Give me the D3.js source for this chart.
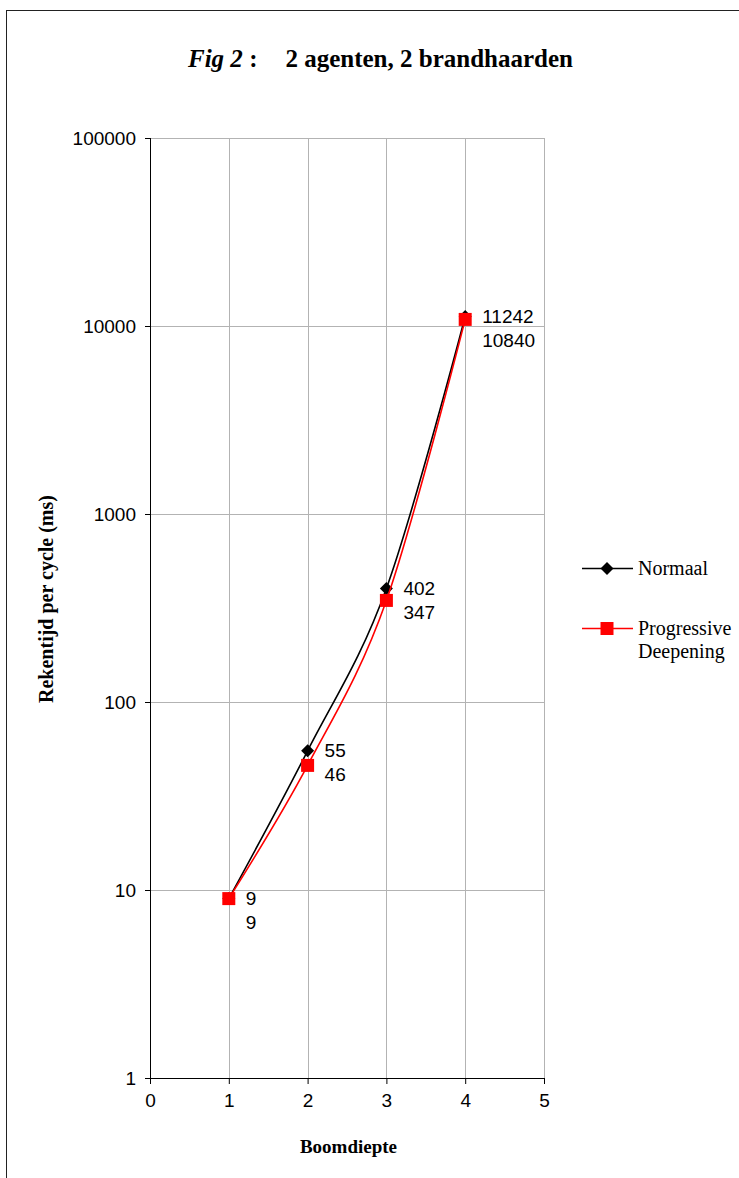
<!DOCTYPE html>
<html>
<head>
<meta charset="utf-8">
<script src="https://cdn.jsdelivr.net/npm/d3@7"></script>
<style>
    body { margin: 0; background: #fff; }
    svg { display: block; }
</style>
</head>
<body>
<svg id="chart"></svg>
<script>
// Chart data
const depths = [1, 2, 3, 4];
const normaal = [9, 55, 402, 11242];
const progressive = [9, 46, 347, 10840];
const seriesNames = ["Normaal", "Progressive Deepening"];
const seriesColors = ["#000000", "#ff0000"];
const xTicks = [0, 1, 2, 3, 4, 5];
const yTicks = [1, 10, 100, 1000, 10000, 100000];

class LineChart {
    constructor(_config) {
        this.config = {
            parentElement: _config.parentElement,
            containerWidth: 739,
            containerHeight: 1178,
            margin: { top: 138, right: 195, bottom: 100, left: 150 }
        };
        this.initVis();
    }

    /**
     * Initialize the visualization
     */
    initVis() {
        let vis = this;
        const m = vis.config.margin;

        vis.width = vis.config.containerWidth - m.left - m.right;
        vis.height = vis.config.containerHeight - m.top - m.bottom;

        vis.svg = d3.select(vis.config.parentElement)
            .attr("width", vis.config.containerWidth)
            .attr("height", vis.config.containerHeight);

        // outer frame, runs off the right and bottom edge
        vis.svg.append("rect")
            .attr("x", 6.5)
            .attr("y", 10.5)
            .attr("width", 800)
            .attr("height", 1300)
            .attr("fill", "none")
            .attr("stroke", "#222")
            .attr("stroke-width", 1);

        vis.chart = vis.svg.append("g")
            .attr("transform", `translate(${m.left},${m.top})`);

        vis.xScale = d3.scaleLinear()
            .domain([0, 5])
            .range([0, vis.width]);

        vis.yScale = d3.scaleLog()
            .domain([1, 100000])
            .range([vis.height, 0]);

        vis.drawTitles();
        vis.drawAxes();
        vis.updateVis();
        vis.createLegend();
    }

    drawTitles() {
        let vis = this;

        let title = vis.svg.append("text")
            .attr("x", 188)
            .attr("y", 67)
            .style("font-family", "'Liberation Serif', serif")
            .style("font-weight", "bold")
            .style("font-size", "25px");
        title.append("tspan").style("font-style", "italic").text("Fig 2");
        title.append("tspan").text(" :");

        vis.svg.append("text")
            .attr("x", 573)
            .attr("y", 67)
            .attr("text-anchor", "end")
            .style("font-family", "'Liberation Serif', serif")
            .style("font-weight", "bold")
            .style("font-size", "25px")
            .text("2 agenten, 2 brandhaarden");

        // axis titles
        vis.svg.append("text")
            .attr("transform", "translate(53,599) rotate(-90)")
            .attr("text-anchor", "middle")
            .style("font-family", "'Liberation Serif', serif")
            .style("font-weight", "bold")
            .style("font-size", "20px")
            .text("Rekentijd per cycle (ms)");

        vis.svg.append("text")
            .attr("x", 348.5)
            .attr("y", 1153)
            .attr("text-anchor", "middle")
            .style("font-family", "'Liberation Serif', serif")
            .style("font-weight", "bold")
            .style("font-size", "19px")
            .text("Boomdiepte");
    }

    drawAxes() {
        let vis = this;

        // gridlines
        vis.chart.append("g")
            .selectAll("line.hgrid")
            .data(yTicks)
            .join("line")
            .attr("x1", 0)
            .attr("x2", vis.width)
            .attr("y1", d => Math.round(vis.yScale(d)) + 0.5)
            .attr("y2", d => Math.round(vis.yScale(d)) + 0.5)
            .attr("stroke", "#b3b3b3");

        vis.chart.append("g")
            .selectAll("line.vgrid")
            .data(xTicks)
            .join("line")
            .attr("x1", d => Math.round(vis.xScale(d)) + 0.5)
            .attr("x2", d => Math.round(vis.xScale(d)) + 0.5)
            .attr("y1", 0)
            .attr("y2", vis.height)
            .attr("stroke", "#b3b3b3");

        // Y axis
        vis.yAxis = d3.axisLeft(vis.yScale)
            .tickValues(yTicks)
            .tickFormat(d3.format("d"))
            .tickSize(5)
            .tickPadding(9)
            .offset(0.5);

        vis.yAxisGroup = vis.chart.append("g").call(vis.yAxis);

        // X axis
        vis.xAxis = d3.axisBottom(vis.xScale)
            .tickValues(xTicks)
            .tickFormat(d3.format("d"))
            .tickSize(6)
            .tickPadding(6)
            .offset(0.5);

        vis.xAxisGroup = vis.chart.append("g")
            .attr("transform", `translate(0,${vis.height})`)
            .call(vis.xAxis);

        [vis.yAxisGroup, vis.xAxisGroup].forEach(g => {
            g.selectAll(".domain").attr("stroke", "#000");
            g.selectAll(".tick line").attr("stroke", "#000");
            g.selectAll(".tick text")
                .attr("fill", "#000")
                .style("font-family", "'Liberation Sans', Arial, sans-serif")
                .style("font-size", "19px");
        });
        vis.yAxisGroup.selectAll(".domain").attr("d", `M0.5,${vis.height}V0`);
        vis.xAxisGroup.selectAll(".domain").attr("d", `M0,0.5H${vis.width}`);
        vis.xAxisGroup.selectAll(".tick text").attr("dy", "0.9em");
    }

    /**
     * Update visualization
     */
    updateVis() {
        let vis = this;

        vis.series = [
            { name: seriesNames[0], color: seriesColors[0], symbol: d3.symbolDiamond2, values: normaal },
            { name: seriesNames[1], color: seriesColors[1], symbol: d3.symbolSquare2, values: progressive }
        ];

        const line = d3.line()
            .x(d => vis.xScale(d.x))
            .y(d => vis.yScale(d.y))
            .curve(d3.curveCardinal.tension(0));

        vis.series.forEach(s => {
            const pts = depths.map((x, i) => ({ x: x, y: s.values[i] }));

            vis.chart.append("path")
                .datum(pts)
                .attr("d", line)
                .attr("fill", "none")
                .attr("stroke", s.color)
                .attr("stroke-width", 1.6);

            vis.chart.selectAll(null)
                .data(pts)
                .join("path")
                .attr("transform", d => `translate(${vis.xScale(d.x)},${vis.yScale(d.y)})`)
                .attr("d", s.symbol === d3.symbolSquare2
                    ? "M-6.5,-6.5H6.5V6.5H-6.5Z"
                    : "M0,-6.5L6.5,0L0,6.5L-6.5,0Z")
                .attr("fill", s.color);
        });

        // data labels, second series pushed down when they collide
        depths.forEach((x, i) => {
            const nx = vis.xScale(x) + 17;
            const ny = vis.yScale(normaal[i]);
            const py = Math.max(vis.yScale(progressive[i]), ny + 24);
            [[normaal[i], ny], [progressive[i], py]].forEach(([v, y]) => {
                vis.chart.append("text")
                    .attr("x", nx)
                    .attr("y", y)
                    .attr("dy", "0.35em")
                    .style("font-family", "'Liberation Sans', Arial, sans-serif")
                    .style("font-size", "19px")
                    .text(v);
            });
        });
    }

    /**
     * Creates the legend
     */
    createLegend() {
        let vis = this;
        const lx = 582, ly = [568, 628];

        vis.series.forEach((s, i) => {
            const g = vis.svg.append("g")
                .attr("transform", `translate(${lx},${ly[i]})`);

            g.append("line")
                .attr("x1", 0)
                .attr("x2", 51)
                .attr("y1", 0.5)
                .attr("y2", 0.5)
                .attr("stroke", s.color)
                .attr("stroke-width", 1.6);

            g.append("path")
                .attr("transform", "translate(25,0.5)")
                .attr("d", i === 1 ? "M-6.5,-6.5H6.5V6.5H-6.5Z" : "M0,-6.5L6.5,0L0,6.5L-6.5,0Z")
                .attr("fill", s.color);

            const t = g.append("text")
                .attr("x", 56)
                .attr("y", 6.5)
                .style("font-family", "'Liberation Serif', serif")
                .style("font-size", "20px");

            s.name.split(" ").forEach((w, j) => {
                t.append("tspan")
                    .attr("x", 56)
                    .attr("dy", j === 0 ? 0 : 23)
                    .text(w);
            });
        });
    }
}

new LineChart({ parentElement: "#chart" });
</script>
</body>
</html>
